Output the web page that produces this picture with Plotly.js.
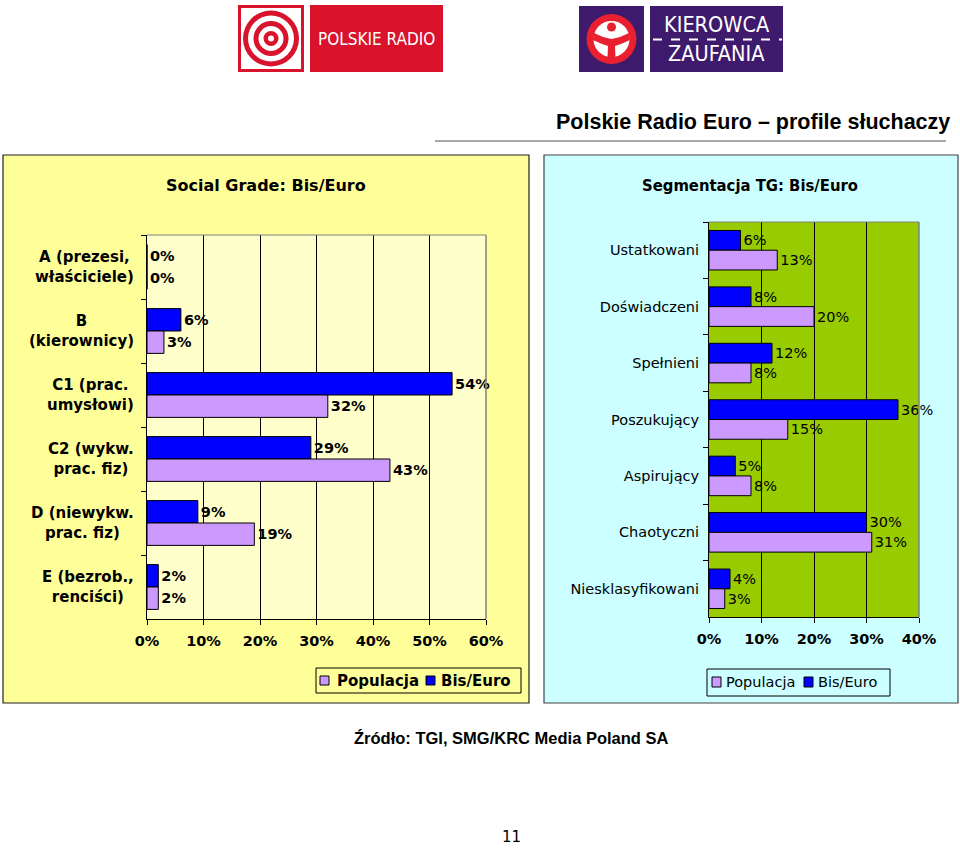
<!DOCTYPE html>
<html><head><meta charset="utf-8">
<script src="https://cdn.plot.ly/plotly-3.0.1.min.js"></script>
<style>html,body{margin:0;padding:0;background:#fff}#chart{width:960px;height:848px}</style>
</head><body><div id="chart"></div>
<script>
// ---- data ----
const socialCategories = ["A (prezesi,<br>właściciele)", "B<br>(kierownicy)", "C1 (prac.<br>umysłowi)", "C2 (wykw.<br>prac. fiz)", "D (niewykw.<br>prac. fiz)", "E (bezrob.,<br>renciści)"];
const socialBisEuro = [0, 6, 54, 29, 9, 2];
const socialPopulacja = [0, 3, 32, 43, 19, 2];
const segmentCategories = ["Ustatkowani", "Doświadczeni", "Spełnieni", "Poszukujący", "Aspirujący", "Chaotyczni", "Niesklasyfikowani"];
const segmentBisEuro = [6, 8, 12, 36, 5, 30, 4];
const segmentPopulacja = [13, 20, 8, 15, 8, 31, 3];
const seriesNames = ["Populacja", "Bis/Euro"];
const socialTicks = [0, 10, 20, 30, 40, 50, 60];
const segmentTicks = [0, 10, 20, 30, 40];

// ---- helpers (pixel -> paper) ----
const W = 960, H = 848;
const X = p => p / W;
const Y = p => 1 - p / H;
const BLUE = '#0000FF', LAV = '#CC99FF';
const VER = 'DejaVu Sans';
const TAH = 'DejaVu Sans Condensed, DejaVu Sans';

const leftValFont = {family: VER, size: 14.5, weight: 'bold', color: '#000'};
const rightValFont = {family: VER, size: 14.5, color: '#000'};

function barTrace(name, vals, cats, color, xa, ya, font) {
  return {type: 'bar', orientation: 'h', name: name, x: vals, y: cats, xaxis: xa, yaxis: ya,
    marker: {color: color, line: {color: '#000', width: 1}},
    text: vals.map(v => v + '%'), textposition: 'outside', textfont: font,
    cliponaxis: false, constraintext: 'none', showlegend: false, hoverinfo: 'none'};
}

const data = [
  barTrace(seriesNames[1], socialBisEuro, socialCategories, BLUE, 'x', 'y', leftValFont),
  barTrace(seriesNames[0], socialPopulacja, socialCategories, LAV, 'x', 'y', leftValFont),
  barTrace(seriesNames[1], segmentBisEuro, segmentCategories, BLUE, 'x2', 'y2', rightValFont),
  barTrace(seriesNames[0], segmentPopulacja, segmentCategories, LAV, 'x2', 'y2', rightValFont)
];

function xAxis(domain, ticks, fontFam, anchor) {
  return {domain: domain, anchor: anchor, range: [0, ticks[ticks.length - 1]], tickvals: ticks,
    ticktext: ticks.map(t => t + '%'), showgrid: true, gridcolor: '#000', gridwidth: 1,
    zeroline: false, showline: true, linecolor: '#000', linewidth: 1, ticks: 'outside',
    ticklen: 5, tickcolor: '#000', tickwidth: 1, ticklabelstandoff: 4,
    tickfont: {family: fontFam, size: 14.5, weight: 'bold', color: '#000'}, fixedrange: true};
}
function yAxis(domain, cats, showLabels, anchor) {
  return {domain: domain, anchor: anchor, type: 'category', categoryorder: 'array', categoryarray: cats,
    autorange: 'reversed', showgrid: false, zeroline: false, showline: true, linecolor: '#000',
    linewidth: 1, ticks: 'outside', tickson: 'boundaries', ticklen: 5, tickcolor: '#000',
    showticklabels: showLabels, ticklabelstandoff: 6,
    tickfont: {family: VER, size: 14.5, color: '#000'}, fixedrange: true};
}

const shapes = [];
const annotations = [];
function rectPx(x0, y0, x1, y1, fill, line, lw, layer) {
  shapes.push({type: 'rect', xref: 'paper', yref: 'paper', x0: X(x0), x1: X(x1), y0: Y(y1), y1: Y(y0),
    fillcolor: fill, line: {color: line || fill, width: lw === undefined ? 0 : lw}, layer: layer || 'above'});
}
function circPx(cx, cy, r, fill) {
  shapes.push({type: 'circle', xref: 'paper', yref: 'paper', x0: X(cx - r), x1: X(cx + r), y0: Y(cy + r), y1: Y(cy - r),
    fillcolor: fill, line: {width: 0}, layer: 'above'});
}
function textPx(x, y, text, font, xanchor, align) {
  annotations.push({xref: 'paper', yref: 'paper', x: X(x), y: Y(y), text: text, showarrow: false,
    xanchor: xanchor || 'center', yanchor: 'middle', align: align || 'center', font: font});
}
function pathPx(pts, fill) {
  const d = pts.map((p, i) => (i ? 'L' : 'M') + X(p[0]) + ',' + Y(p[1])).join(' ') + ' Z';
  shapes.push({type: 'path', xref: 'paper', yref: 'paper', path: d, fillcolor: fill, line: {width: 0}, layer: 'above'});
}

// panels
rectPx(3, 155, 529, 703, '#FFFF99', '#222', 1.2, 'below');
rectPx(544, 155, 958, 703, '#CCFFFF', '#444', 1.2, 'below');
// plot area backgrounds
shapes.push({type: 'rect', xref: 'x domain', yref: 'y domain', x0: 0, x1: 1, y0: 0, y1: 1, fillcolor: '#FFFFCC', line: {width: 0}, layer: 'below'});
shapes.push({type: 'rect', xref: 'x2 domain', yref: 'y2 domain', x0: 0, x1: 1, y0: 0, y1: 1, fillcolor: '#99CC00', line: {width: 0}, layer: 'below'});
// gray top/right plot borders
[['x domain', 'y domain'], ['x2 domain', 'y2 domain']].forEach(r => {
  shapes.push({type: 'line', xref: r[0], yref: r[1], x0: 0, x1: 1, y0: 1, y1: 1, line: {color: '#808080', width: 1}, layer: 'above'});
  shapes.push({type: 'line', xref: r[0], yref: r[1], x0: 1, x1: 1, y0: 0, y1: 1, line: {color: '#808080', width: 1.5}, layer: 'above'});
});
// title underline
shapes.push({type: 'line', xref: 'paper', yref: 'paper', x0: X(435), x1: X(946), y0: Y(141), y1: Y(141), line: {color: '#A8A8A8', width: 2}});

// ---- logos ----
const RED = '#D8132B', PURP = '#3E1A6C';
rectPx(238, 5, 304, 72, RED);
rectPx(241, 8, 301, 69, '#FFFFFF');
circPx(271, 38.5, 28, RED);
circPx(271, 38.5, 23, '#FFFFFF');
circPx(271, 38.5, 17.5, RED);
circPx(271, 38.5, 12.5, '#FFFFFF');
circPx(271, 38.5, 7.5, RED);
circPx(271, 38.5, 3, '#FFFFFF');
rectPx(310, 5, 443, 72, RED);
textPx(376.5, 39, 'POLSKIE RADIO', {family: TAH, size: 17, color: '#FFFFFF'});

rectPx(579, 6, 644, 72, PURP);
circPx(611.5, 39, 25, '#E8202F');
circPx(611.5, 39, 18, '#FFFFFF');
circPx(611.5, 27, 4.5, '#E8202F');
pathPx([[594, 33], [603, 37], [611.5, 39], [620, 37], [629, 33], [630, 40], [621, 44], [615, 46], [615.5, 58], [607.5, 58], [608, 46], [602, 44], [593, 40]], '#E8202F');
rectPx(650, 6, 783, 72, PURP);
textPx(716.5, 25, 'KIEROWCA', {family: TAH, size: 21.5, color: '#FFFFFF'});
textPx(716.5, 54, 'ZAUFANIA', {family: TAH, size: 21.5, color: '#FFFFFF'});
shapes.push({type: 'line', xref: 'paper', yref: 'paper', x0: X(653), x1: X(782), y0: Y(39.5), y1: Y(39.5), line: {color: '#FFFFFF', width: 2, dash: 'dash'}});

// ---- texts ----
textPx(952, 122, 'Polskie Radio Euro – profile słuchaczy', {family: 'Liberation Sans', size: 21.5, weight: 'bold', color: '#000'}, 'right');
textPx(266, 185, 'Social Grade: Bis/Euro', {family: VER, size: 16, weight: 'bold', color: '#000'});
textPx(750, 186, 'Segmentacja TG: Bis/Euro', {family: TAH, size: 16.5, weight: 'bold', color: '#000'});
textPx(511, 738, 'Źródło: TGI, SMG/KRC Media Poland SA', {family: 'Liberation Sans', size: 16.5, weight: 'bold', color: '#000'});
textPx(511, 837, '11', {family: VER, size: 15, color: '#000'});

// left category labels (centered multi-line)
socialCategories.forEach(c => {
  annotations.push({xref: 'x domain', yref: 'y', x: 0, y: c, xanchor: 'right', yanchor: 'middle', xshift: -11,
    text: c, showarrow: false, align: 'center', font: {family: VER, size: 15, weight: 'bold', color: '#000'}});
});

// ---- custom legends ----
rectPx(316, 668, 521, 693, '#FFFF99', '#000', 1);
rectPx(320, 676, 329, 685, LAV, '#000', 1);
rectPx(426, 676, 435, 685, BLUE, '#000', 1);
textPx(335, 681, seriesNames[0], {family: VER, size: 15, weight: 'bold', color: '#000'}, 'left');
textPx(439, 681, seriesNames[1], {family: VER, size: 15, weight: 'bold', color: '#000'}, 'left');

rectPx(707, 669, 890, 696, '#CCFFFF', '#000', 1);
rectPx(712, 677, 721, 687, LAV, '#000', 1);
rectPx(804, 677, 813, 687, BLUE, '#000', 1);
textPx(724, 682, seriesNames[0], {family: VER, size: 14.5, color: '#000'}, 'left');
textPx(816, 682, seriesNames[1], {family: VER, size: 14.5, color: '#000'}, 'left');

const layout = {
  width: W, height: H, margin: {l: 0, r: 0, t: 0, b: 0},
  paper_bgcolor: '#FFFFFF', plot_bgcolor: 'rgba(0,0,0,0)',
  barmode: 'group', bargap: 0.3, bargroupgap: 0,
  showlegend: false,
  xaxis: xAxis([X(147), X(486)], socialTicks, VER, 'y'),
  yaxis: yAxis([Y(619), Y(235)], socialCategories, false, 'x'),
  xaxis2: xAxis([X(709), X(919)], segmentTicks, VER, 'y2'),
  yaxis2: yAxis([Y(617), Y(222)], segmentCategories, true, 'x2'),
  shapes: shapes, annotations: annotations
};

Plotly.newPlot('chart', data, layout, {displayModeBar: false, staticPlot: true});
</script>
</body></html>
